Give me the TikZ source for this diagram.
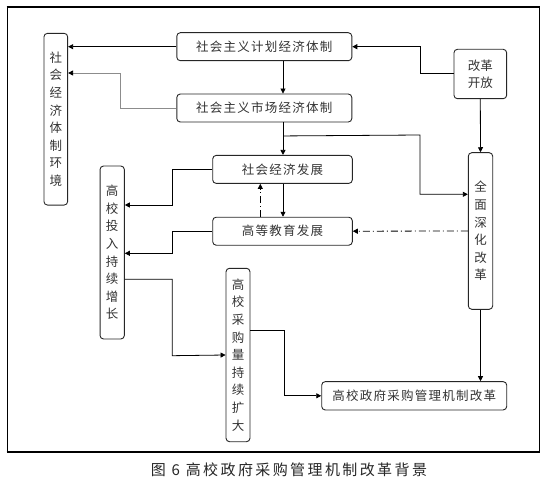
\documentclass[tikz,border=0pt]{standalone}
\usepackage{fontspec}
\newfontfamily\cjk[LetterSpace=10]{Noto Sans CJK SC}
\newfontfamily\cjkcap[LetterSpace=16]{Noto Sans CJK SC}
\newfontfamily\cjkv{Noto Sans CJK SC}
\usetikzlibrary{arrows.meta,calc}
\tikzset{
  box/.style={draw=black!85, line width=0.9pt, rounded corners=3.5pt, inner sep=0pt, text=black!80},
  hbox/.style={box, font=\cjk\fontsize{12.5}{15}\selectfont},
  vbox/.style={box, align=center, font=\cjkv\fontsize{12.5}{17.6}\selectfont},
  conn/.style={draw=black, line width=0.8pt, -{Triangle[length=5pt,width=5pt]}},
  dd/.style={conn, dash pattern=on 7pt off 3pt on 1pt off 3pt},
}
\begin{document}
\begin{tikzpicture}[x=1pt,y=-1pt]
\useasboundingbox (0,0) rectangle (546,492);
% frame
\draw[line width=1pt] (7,7) rectangle (539,452);
\draw[line width=1.6pt] (6.5,7.3) -- (539.5,7.3);
\draw[line width=2.6pt] (6.5,452) -- (539.5,452);
% nodes
\node[hbox, minimum width=175pt, minimum height=28pt] (plan) at (264.3,46.7) {社会主义计划经济体制};
\node[hbox, minimum width=175pt, minimum height=28pt] (market) at (264.3,108) {社会主义市场经济体制};
\node[hbox, minimum width=139.6pt, minimum height=28pt] (soc) at (282.5,169.4) {社会经济发展};
\node[hbox, minimum width=139.6pt, minimum height=28pt] (edu) at (282.5,231.2) {高等教育发展};
\node[vbox, minimum width=23.7pt, minimum height=171.7pt] (env) at (55.8,119.2) {社\\会\\经\\济\\体\\制\\环\\境};
\node[vbox, minimum width=24.3pt, minimum height=173pt] (invest) at (112.2,252.5) {高\\校\\投\\入\\持\\续\\增\\长};
\node[vbox, minimum width=24pt, minimum height=173.4pt] (vol) at (238,355) {高\\校\\采\\购\\量\\持\\续\\扩\\大};
\node[box, align=center, font=\cjkv\fontsize{12.5}{17}\selectfont, minimum width=52.7pt, minimum height=49.4pt] (open) at (480.3,74) {改革\\开放};
\node[vbox, minimum width=24.4pt, minimum height=156.6pt] (deep) at (480.5,231) {全\\面\\深\\化\\改\\革};
\node[hbox, minimum width=185pt, minimum height=28.3pt] (proc) at (414.2,395.8) {高校政府采购管理机制改革};
% caption
\node[font=\cjkcap\fontsize{15}{18}\selectfont, text=black!85] (cap) at (289,470) {图 6 高校政府采购管理机制改革背景};
% helper coordinates
\coordinate (c283) at (283,0);
\coordinate (c420) at (420,0);
\coordinate (c172) at (172.3,0);
\coordinate (c120) at (120,0);
\coordinate (c260) at (260.3,0);
\coordinate (c284) at (284.3,0);
% connectors
\draw[conn] (plan.west) -- (plan.west -| env.east);
\draw[conn] (c283 |- plan.south) -- (c283 |- market.north);
\draw[line width=0.8pt, draw=black!45] (market.west) -- (c120 |- market.west) -- ($(c120)+(0,73)$) -- ($(env.east |- c120)+(5,73)$);
\draw[conn, shorten <=4pt] ($(env.east |- c120)+(6,73)$) -- ($(env.east |- c120)+(0,73)$);
\draw[conn] (c283 |- market.south) -- (c283 |- soc.north);
\draw[conn] ($(c283 |- market.south)+(0,13.5)$) -- ($(c420)+(0,135)$) -- ($(c420)+(0,194.3)$) -- ($(deep.west |- c420)+(0,194.3)$);
\draw[conn] ($(open.west)+(0,-0.7)$) -- ($(c420)+(0,73.3)$) -- (c420 |- plan.east) -- (plan.east);
\draw[conn] (open.south) -- (deep.north);
\draw[dd] (deep.west) -- (edu.east);
\draw[dd] (c260 |- edu.north) -- (c260 |- soc.south);
\draw[conn] (c283 |- soc.south) -- (c283 |- edu.north);
\draw[conn] (soc.west) -- (c172 |- soc.west) -- ($(c172)+(0,205)$) -- ($(invest.east |- c172)+(0,205)$);
\draw[conn] (edu.west) -- (c172 |- edu.west) -- ($(c172)+(0,253.3)$) -- ($(invest.east |- c172)+(0,253.3)$);
\draw[conn] ($(invest.east |- c172)+(0,279.3)$) -- ($(c172)+(0,279.3)$) -- ($(c172)+(0,355.7)$) -- (vol.west);
\draw[conn] ($(vol.east |- c284)+(0,330.7)$) -- ($(c284)+(0,330.7)$) -- (c284 |- proc.west) -- (proc.west);
\draw[conn] (deep.south) -- (deep.south |- proc.north);
\end{tikzpicture}
\end{document}
